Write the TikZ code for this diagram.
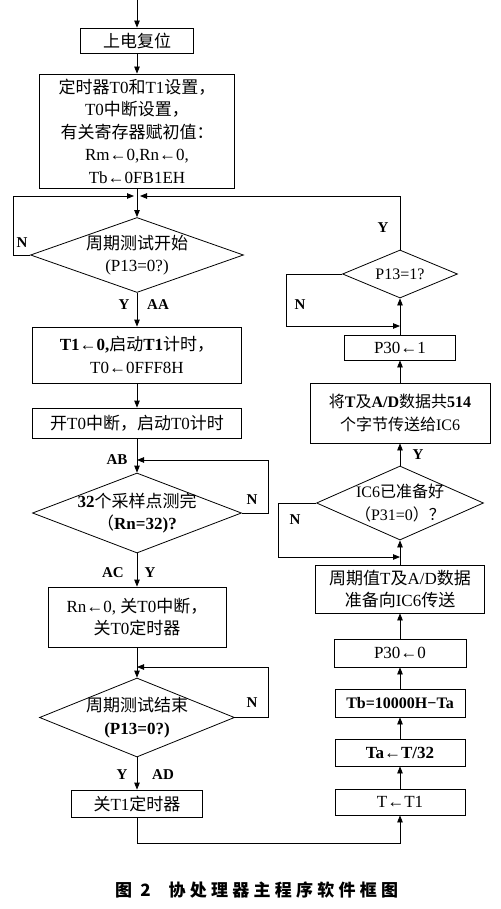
\documentclass[tikz,border=0pt]{standalone}
\usepackage{fontspec}
\usetikzlibrary{shapes.geometric,arrows.meta}
\setmainfont{Liberation Serif}
\newfontfamily\zhfont{Noto Sans CJK SC}
\newfontfamily\capfont{Noto Sans CJK SC}[LetterSpace=25]
\newcommand{\zh}[1]{{\zhfont #1}}
\begin{document}
\begin{tikzpicture}[x=1pt,y=-1pt,
  txt/.style={font=\fontsize{17}{22.5}\selectfont, align=center, inner sep=0pt},
  smalltxt/.style={font=\fontsize{16}{22.5}\selectfont},
  box/.style={draw, line width=0.8pt, txt},
  dia/.style={draw, diamond, line width=0.8pt, inner sep=0pt},
  arr/.style={-{Triangle[length=7pt,width=5.5pt]}, line width=0.8pt},
  lnk/.style={line width=0.8pt},
  lab/.style={font=\fontsize{15}{18}\selectfont\bfseries, inner sep=0pt}]
\useasboundingbox (0,0) rectangle (500,909);
% left column
\coordinate (top) at (137,0);
\node[box, minimum width=113, minimum height=25] (b1) at (137,40.5) {\zh{上电复位}};
\node[box, minimum width=195, minimum height=114] (b2) at (137,131)
 {\zh{定时器}T0\zh{和}T1\zh{设置，}\\T0\zh{中断设置，}\\\zh{有关寄存器赋初值：}\\Rm←0,Rn←0,\\Tb←0FB1EH};
\node[dia, minimum width=213, minimum height=75,
  label={[txt]center:{\zh{周期测试开始}\\(P13=0?)}}] (d1) at (137,255) {};
\node[box, minimum width=209, minimum height=56] (b3) at (137,355)
 {\textbf{T1←0,}\zh{启动}\textbf{T1}\zh{计时，}\\T0←0FFF8H};
\node[box, minimum width=209, minimum height=30] (b4) at (137,423) {\zh{开}T0\zh{中断，启动}T0\zh{计时}};
\node[dia, minimum width=209, minimum height=80,
  label={[txt]center:{\textbf{32}\zh{个采样点测完}\\\zh{（}\textbf{Rn=32)?}}}] (d2) at (137,513) {};
\node[box, minimum width=178, minimum height=60] (b5) at (137,617)
 {Rn←0, \zh{关}T0\zh{中断，}\\\zh{关}T0\zh{定时器}};
\node[dia, minimum width=195, minimum height=79,
  label={[txt]center:{\zh{周期测试结束}\\\textbf{(P13=0?)}}}] (d3) at (137,717.5) {};
\node[box, minimum width=131, minimum height=27] (b6) at (137,803.5) {\zh{关}T1\zh{定时器}};
% right column
\node[box, minimum width=130, minimum height=26] (r1) at (400,802) {T←T1};
\node[box, minimum width=130, minimum height=27] (r2) at (400,752.5) {\textbf{Ta←T/32}};
\node[box, minimum width=130, minimum height=28, smalltxt] (r3) at (400,703) {\textbf{Tb=10000H−Ta}};
\node[box, minimum width=132, minimum height=28] (r4) at (400,653) {P30←0};
\node[box, minimum width=169, minimum height=48] (r5) at (400,589) {\zh{周期值}T\zh{及}A/D\zh{数据}\\\zh{准备向}IC6\zh{传送}};
\node[dia, minimum width=167, minimum height=74,
  label={[txt,smalltxt]center:{IC6\zh{已准备好}\\\zh{（}P31=0\zh{）？}}}] (d4) at (400,503) {};
\node[box, minimum width=180, minimum height=60, smalltxt] (r6) at (400,413) {\zh{将}\textbf{T}\zh{及}\textbf{A/D}\zh{数据共}\textbf{514}\\\zh{个字节传送给}IC6};
\node[box, minimum width=111, minimum height=25] (r7) at (400,347.5) {P30←1};
\node[dia, minimum width=115, minimum height=48,
  label={[txt,smalltxt]center:{P13=1?}}] (d5) at (400,274) {};
% junction coordinates
\coordinate (m) at (137,196);
\coordinate (mL) at (134,196);
\coordinate (mR) at (140,196);
\coordinate (cL) at (13,196);
\coordinate (j2) at (137,460);
\coordinate (k2) at (268,460);
\coordinate (j3) at (137,667);
\coordinate (k3) at (268,667);
\coordinate (k6) at (137,843);
\coordinate (j4) at (400,557);
\coordinate (k4) at (278,557);
\coordinate (j5) at (400,326);
\coordinate (k5) at (286,326);
% connectors left
\draw[arr] (top) -- (b1.north);
\draw[arr] (b1.south) -- (b2.north);
\draw[lnk] (b2.south) -- (m);
\draw[arr] (d1.west) -| (cL) -- (mL);
\draw[arr] (d5.north) |- (mR);
\draw[arr] (m) -- (d1.north);
\draw[arr] (d1.south) -- (b3.north);
\draw[arr] (b3.south) -- (b4.north);
\draw[arr] (b4.south) -- (d2.north);
\draw[arr] (d2.east) -| (k2) -- (j2);
\draw[arr] (d2.south) -- (b5.north);
\draw[arr] (b5.south) -- (d3.north);
\draw[arr] (d3.east) -| (k3) -- (j3);
\draw[arr] (d3.south) -- (b6.north);
\draw[arr] (b6.south) -- (k6) -| (r1.south);
% connectors right
\draw[arr] (r1.north) -- (r2.south);
\draw[arr] (r2.north) -- (r3.south);
\draw[arr] (r3.north) -- (r4.south);
\draw[arr] (r4.north) -- (r5.south);
\draw[arr] (r5.north) -- (d4.south);
\draw[arr] (d4.west) -| (k4) -- (j4);
\draw[arr] (d4.north) -- (r6.south);
\draw[arr] (r6.north) -- (r7.south);
\draw[arr] (r7.north) -- (d5.south);
\draw[arr] (d5.west) -| (k5) -- (j5);
% labels
\node[lab] (lN1) at (22,243) {N};
\node[lab] (lY1) at (124,305) {Y};
\node[lab] (lAA) at (158,305) {AA};
\node[lab] (lAB) at (117,460) {AB};
\node[lab] (lN2) at (252,500) {N};
\node[lab] (lAC) at (113,573) {AC};
\node[lab] (lY2) at (150,573) {Y};
\node[lab] (lN3) at (252,703) {N};
\node[lab] (lY3) at (122,775) {Y};
\node[lab] (lAD) at (163,775) {AD};
\node[lab] (lY4) at (383,228) {Y};
\node[lab] (lN4) at (300,305) {N};
\node[lab] (lY5) at (418,455) {Y};
\node[lab] (lN5) at (295,520) {N};
% caption
\node[inner sep=0pt, font=\fontsize{17}{19}\selectfont\capfont\bfseries, anchor=west] (cap) at (115,890) {图 2\hspace{18pt}协处理器主程序软件框图};
\end{tikzpicture}
\end{document}
